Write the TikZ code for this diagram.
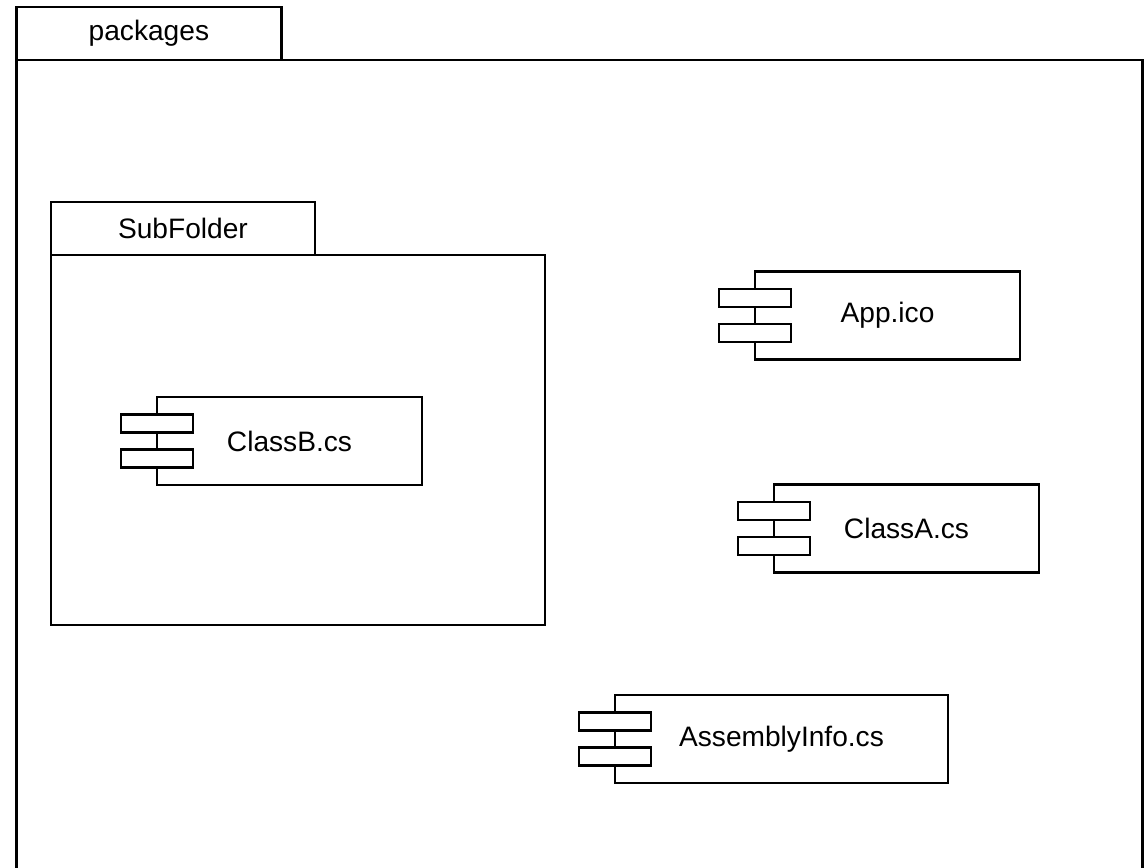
\documentclass[tikz,border=0pt]{standalone}
\usepackage{fontspec}
\setmainfont{Liberation Sans}
\usetikzlibrary{positioning}

\tikzset{
  umlline/.style={line width=1.9pt, outer sep=0pt},
  pkgbody/.style={draw, umlline},
  pkgtab/.style={draw, umlline, minimum height=1.325cm, font=\fontsize{20}{24}\selectfont},
  comp/.style={draw, umlline, minimum width=6.625cm, minimum height=2.2cm, font=\fontsize{20}{24}\selectfont},
  port/.style={draw, umlline, fill=white, minimum width=1.8cm, minimum height=0.45cm, inner sep=0pt}
}

\begin{document}
\begin{tikzpicture}[x=0.025cm,y=-0.025cm]
  \clip (0,0) rectangle (1146,868);

  % outer package
  \node[pkgbody, minimum width=28.15cm, minimum height=22.5cm] (pkg) at (579.5,510) {};
  \node[pkgtab, minimum width=6.625cm, above right=0pt and 0pt of pkg.north west] (pkgt) {packages};

  % sub folder
  \node[pkgbody, minimum width=12.35cm, minimum height=9.25cm] (sub) at (298,440) {};
  \node[pkgtab, minimum width=6.6cm, above right=0pt and 0pt of sub.north west] (subt) {SubFolder};

  % components
  \node[comp] (classb) at (289.5,441) {ClassB.cs};
  \node[comp] (appico) at (887.5,315.5) {App.ico};
  \node[comp] (classa) at (906.5,528.5) {ClassA.cs};
  \node[comp, minimum width=8.325cm] (asminfo) at (781.5,739) {AssemblyInfo.cs};

  \foreach \c in {classb,appico,classa,asminfo} {
    \node[port] at ([yshift=0.44cm]\c.west) {};
    \node[port] at ([yshift=-0.44cm]\c.west) {};
  }
\end{tikzpicture}
\end{document}
